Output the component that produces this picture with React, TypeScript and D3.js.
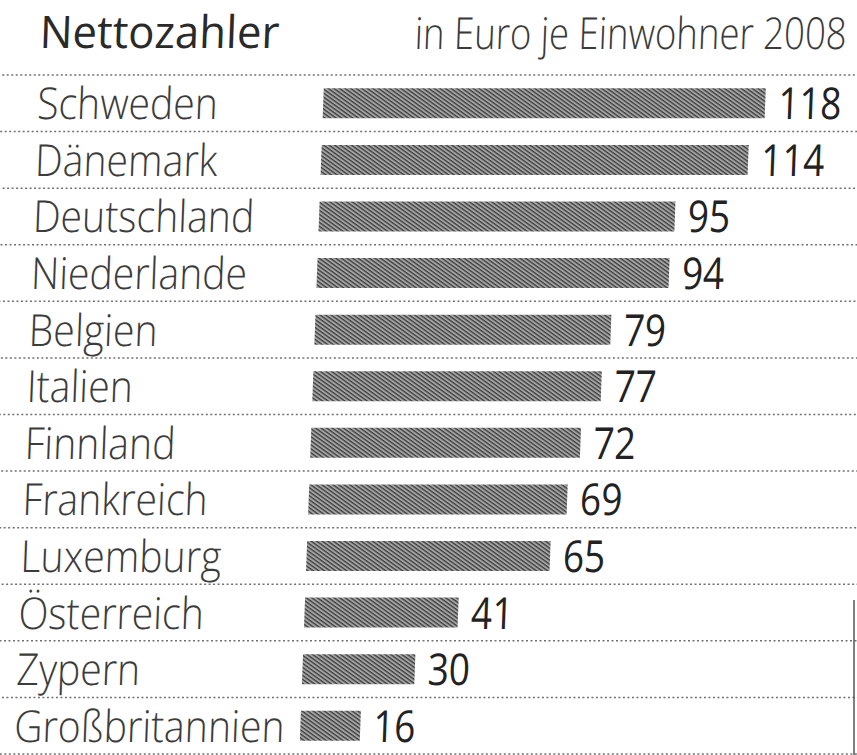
import React from "react";
import * as d3 from "d3";

const countries = [
  "Schweden",
  "Dänemark",
  "Deutschland",
  "Niederlande",
  "Belgien",
  "Italien",
  "Finnland",
  "Frankreich",
  "Luxemburg",
  "Österreich",
  "Zypern",
  "Großbritannien",
];
const values = [118, 114, 95, 94, 79, 77, 72, 69, 65, 41, 30, 16];
const titleText = "Nettozahler";
const subtitleText = "in Euro je Einwohner 2008";

const W = 857;
const H = 755;
const SKEW = -2.1;
const FONT = "'Open Sans', 'DejaVu Sans', sans-serif";
const HS_LABEL = 0.89;
const HS_VALUE = 0.84;

export default function App() {
  const y = d3.scaleBand<string>().domain(countries).range([75, 754]).paddingInner(0).paddingOuter(0);
  const barLeft = 327;
  const x = d3.scaleLinear().domain([0, 118]).range([0, 442]);
  const step = y.step();
  const seps = d3.range(countries.length + 1).map((i) => 75 + i * step);
  const barH = 30;

  return (
    <svg width={W} height={H} style={{ position: "absolute", left: 0, top: 0, background: "#fff" }}>
      <defs>
        <pattern id="hatch" width="3.2" height="3.2" patternUnits="userSpaceOnUse" patternTransform="rotate(35)">
          <rect width="3.2" height="3.2" fill="#a4a4a4" />
          <rect width="3.2" height="1.3" fill="#3c3c3c" />
        </pattern>
      </defs>
      <g transform={`skewX(${SKEW})`}>
        <text
          transform={`translate(41,48) scale(0.97,1)`}
          fontFamily={FONT}
          fontWeight={500}
          fontSize={45}
          fill="#2a2a2a"
        >
          {titleText}
        </text>
        <text
          transform={`translate(416,49) scale(0.83,1)`}
          fontFamily={FONT}
          fontWeight={300}
          fontSize={44}
          fill="#3a3a3a"
        >
          {subtitleText}
        </text>
        {seps.map((s, i) => (
          <line
            key={"s" + i}
            x1={-40}
            x2={W + 40}
            y1={s}
            y2={s}
            stroke="#707070"
            strokeWidth={1.5}
            strokeDasharray="2 2.5"
          />
        ))}
        {countries.map((c, i) => {
          const cy = (y(c) as number) + step / 2;
          const w = x(values[i]);
          return (
            <g key={c}>
              <rect x={barLeft} y={cy - barH / 2} width={w} height={barH} fill="url(#hatch)" />
              <text
                transform={`translate(41,${cy + 16}) scale(${HS_LABEL},1)`}
                fontFamily={FONT}
                fontWeight={300}
                fontSize={44}
                fill="#3c3c3c"
              >
                {c}
              </text>
              <text
                transform={`translate(${barLeft + w + 13},${cy + 16}) scale(${HS_VALUE},1)`}
                fontFamily={FONT}
                fontWeight={400}
                fontSize={44}
                fill="#222"
              >
                {values[i]}
              </text>
            </g>
          );
        })}
      </g>
      <line x1={854} x2={854} y1={600} y2={755} stroke="#555" strokeWidth={1.5} />
    </svg>
  );
}
